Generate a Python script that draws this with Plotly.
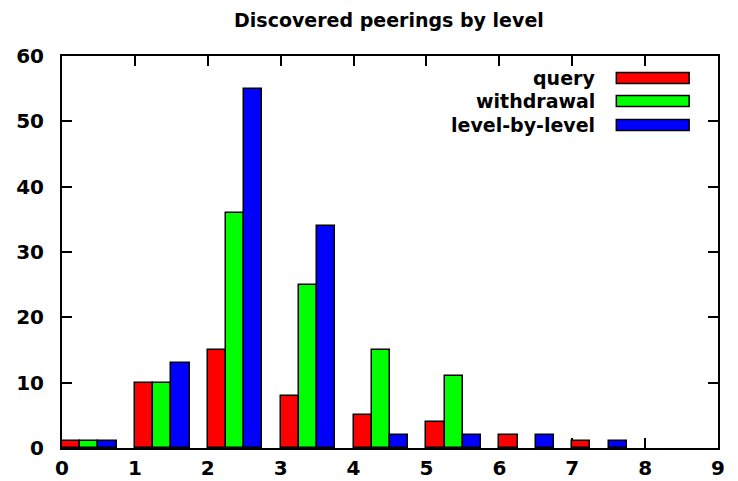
import plotly.graph_objects as go

levels = [0, 1, 2, 3, 4, 5, 6, 7, 8]
query = [1, 10, 15, 8, 5, 4, 2, 1, 0]
withdrawal = [1, 10, 36, 25, 15, 11, 0, 0, 0]
level_by_level = [1, 13, 55, 34, 2, 2, 2, 1, 0]
series_names = ["query", "withdrawal", "level-by-level"]
series_colors = ["#ff0000", "#00ff00", "#0000ff"]
series_values = [query, withdrawal, level_by_level]
x_ticks = list(range(0, 10))
y_ticks = list(range(0, 70, 10))

BAR_W = 0.25
FONT = "DejaVu Sans"

fig = go.Figure()
for i, (name, col, vals) in enumerate(zip(series_names, series_colors, series_values)):
    xs = [lv + BAR_W * (i + 0.5) for lv in levels]
    ys = [v if v != 0 else None for v in vals]
    fig.add_trace(go.Bar(
        x=xs, y=ys, width=BAR_W, name=name,
        marker=dict(color=col, line=dict(color="black", width=1.5)),
        showlegend=False,
    ))

# gnuplot-style legend: text right-aligned, swatch to its right
leg_y = [0.944, 0.885, 0.824]
for i, (name, col) in enumerate(zip(series_names, series_colors)):
    fig.add_annotation(
        x=0.8155, y=leg_y[i], xref="paper", yref="paper",
        text="<b>" + name + "</b>", showarrow=False,
        xanchor="right", yanchor="middle",
        font=dict(family=FONT, size=19, color="black"),
    )
    fig.add_shape(
        type="rect", xref="paper", yref="paper",
        x0=0.845, x1=0.956, y0=leg_y[i] - 0.014, y1=leg_y[i] + 0.014,
        fillcolor=col, line=dict(color="black", width=1.5),
    )

axis_common = dict(
    showline=True, linecolor="black", linewidth=2, mirror="ticks",
    ticks="inside", ticklen=10, tickwidth=1.5, tickcolor="black",
    showgrid=False, zeroline=False, automargin=False, layer="below traces",
    tickfont=dict(family=FONT, size=20, color="black", weight="bold"),
)

fig.update_layout(
    width=738, height=481,
    margin=dict(l=62, r=20, t=56, b=33),
    paper_bgcolor="white", plot_bgcolor="white",
    barmode="overlay", bargap=0,
    title=dict(
        text="<b>Discovered peerings by level</b>",
        x=0.527, xanchor="center", y=0.958, yanchor="middle",
        font=dict(family=FONT, size=19, color="black"),
    ),
    xaxis=dict(range=[0, 9], tickvals=x_ticks, ticktext=[str(t) for t in x_ticks],
               ticklabelstandoff=1, **axis_common),
    yaxis=dict(range=[0, 60], tickvals=y_ticks, ticktext=[str(t) for t in y_ticks],
               ticklabelstandoff=12, **axis_common),
)

fig.write_html("out.html")
